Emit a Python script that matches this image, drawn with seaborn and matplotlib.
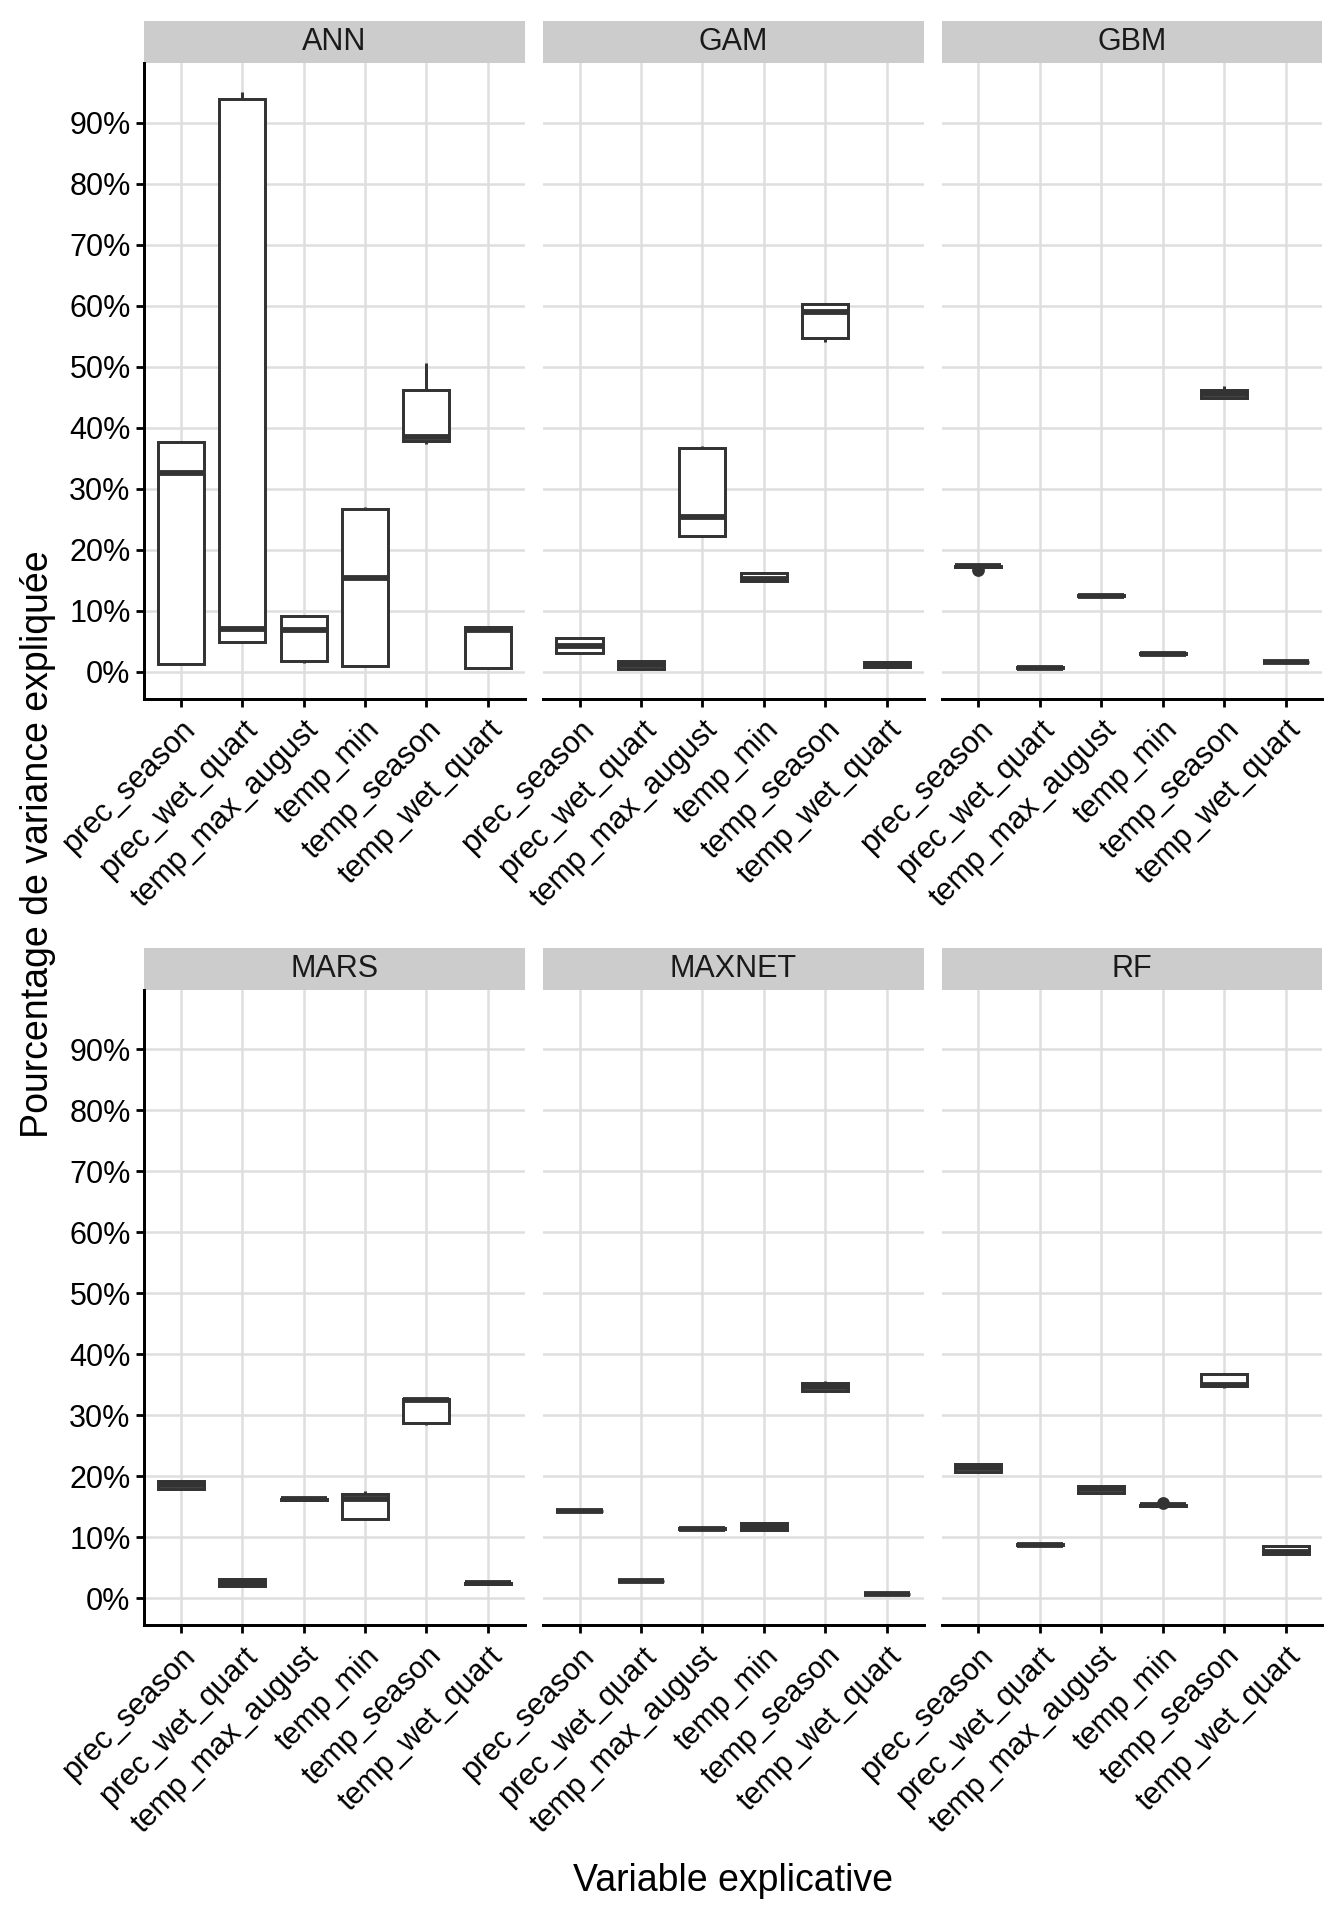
import numpy as np
import pandas as pd
import matplotlib.pyplot as plt
import seaborn as sns
from matplotlib.patches import Rectangle
from matplotlib.ticker import PercentFormatter

models = ["ANN", "GAM", "GBM", "MARS", "MAXNET", "RF"]
variables = ["prec_season", "prec_wet_quart", "temp_max_august",
             "temp_min", "temp_season", "temp_wet_quart"]

# share of explained variance per run (5 runs per variable)
ann = [
    [0.012, 0.013, 0.326, 0.376, 0.379],
    [0.049, 0.049, 0.070, 0.939, 0.950],
    [0.014, 0.017, 0.068, 0.091, 0.092],
    [0.0076, 0.0098, 0.154, 0.266, 0.270],
    [0.374, 0.379, 0.385, 0.462, 0.506],
    [0.005, 0.006, 0.068, 0.073, 0.0755],
]
gam = [
    [0.029, 0.030, 0.0415, 0.055, 0.056],
    [0.003, 0.004, 0.011, 0.017, 0.018],
    [0.220, 0.223, 0.253, 0.366, 0.370],
    [0.148, 0.149, 0.152, 0.162, 0.163],
    [0.540, 0.547, 0.589, 0.603, 0.604],
    [0.006, 0.007, 0.012, 0.016, 0.017],
]
gbm = [
    [0.167, 0.172, 0.173, 0.174, 0.175],
    [0.0060, 0.0064, 0.0068, 0.0072, 0.0075],
    [0.1235, 0.124, 0.1246, 0.125, 0.1255],
    [0.0288, 0.029, 0.0294, 0.030, 0.0302],
    [0.448, 0.449, 0.455, 0.461, 0.468],
    [0.0154, 0.0156, 0.0159, 0.0162, 0.0164],
]
mars = [
    [0.178, 0.1785, 0.185, 0.192, 0.1925],
    [0.0195, 0.020, 0.024, 0.031, 0.0316],
    [0.1605, 0.161, 0.1616, 0.162, 0.1625],
    [0.129, 0.130, 0.1616, 0.171, 0.175],
    [0.283, 0.2865, 0.3255, 0.327, 0.328],
    [0.0235, 0.0238, 0.024, 0.0243, 0.0245],
]
maxnet = [
    [0.1425, 0.1428, 0.143, 0.1435, 0.144],
    [0.0275, 0.0278, 0.028, 0.0283, 0.0286],
    [0.1135, 0.1138, 0.114, 0.1145, 0.1148],
    [0.111, 0.1117, 0.117, 0.1227, 0.123],
    [0.339, 0.340, 0.346, 0.352, 0.356],
    [0.006, 0.0063, 0.0066, 0.0069, 0.0072],
]
rf = [
    [0.2065, 0.207, 0.214, 0.220, 0.2205],
    [0.0868, 0.087, 0.0874, 0.0878, 0.088],
    [0.1715, 0.172, 0.178, 0.183, 0.1835],
    [0.1505, 0.151, 0.1518, 0.1525, 0.1555],
    [0.345, 0.347, 0.350, 0.367, 0.3675],
    [0.0715, 0.072, 0.075, 0.0845, 0.085],
]
yticks = [0.0, 0.1, 0.2, 0.3, 0.4, 0.5, 0.6, 0.7, 0.8, 0.9]

rows = []
for model, runs in zip(models, [ann, gam, gbm, mars, maxnet, rf]):
    for var, vals in zip(variables, runs):
        for v in vals:
            rows.append({"model": model, "variable": var, "value": v})
df = pd.DataFrame(rows)

sns.set_theme(style="white")
plt.rcParams["font.family"] = ["Liberation Sans", "DejaVu Sans"]

dark = "#333333"
fig, axes = plt.subplots(2, 3, figsize=(6.72, 9.6), dpi=200)
fig.subplots_adjust(left=0.107, right=0.984, top=0.967, bottom=0.1536,
                    wspace=0.047, hspace=0.458)

# ggplot-style 5% expansion of the data range
lo, hi = df["value"].min(), df["value"].max()
pad = 0.05 * (hi - lo)

for i, (ax, model) in enumerate(zip(axes.flat, models)):
    sub = df[df["model"] == model]
    sns.boxplot(data=sub, x="variable", y="value", order=variables, ax=ax,
                color="white", linecolor=dark, linewidth=1.07, width=0.75,
                medianprops={"linewidth": 2.1, "color": dark},
                capprops={"visible": False},
                flierprops={"marker": "o", "markerfacecolor": dark,
                            "markeredgecolor": dark, "markersize": 3.6})
    ax.set_xlim(-0.6, len(variables) - 0.4)
    ax.set_ylim(lo - pad, hi + pad)
    ax.set_yticks(yticks)
    ax.yaxis.set_major_formatter(PercentFormatter(1.0, decimals=0))
    ax.set_axisbelow(True)
    ax.grid(True, color="#DEDEDE", linewidth=0.9)
    ax.set_xlabel("")
    ax.set_ylabel("")
    for s in ["top", "right"]:
        ax.spines[s].set_visible(False)
    ax.spines["bottom"].set_color("black")
    ax.spines["bottom"].set_linewidth(1.07)
    ax.set_xticks(range(len(variables)))
    ax.set_xticklabels(variables, rotation=45, ha="right",
                       rotation_mode="anchor", fontsize=11, color="black")
    ax.tick_params(axis="x", length=2.75, width=1.0, color="black", pad=3,
                   bottom=True)
    if i % 3 == 0:
        ax.spines["left"].set_color("black")
        ax.spines["left"].set_linewidth(1.07)
        ax.tick_params(axis="y", length=2.75, width=1.0, color="black",
                       labelsize=11, labelcolor="black", pad=2, left=True)
    else:
        ax.spines["left"].set_visible(False)
        ax.tick_params(axis="y", length=0, labelleft=False)

    strip_h = 0.066
    ax.add_patch(Rectangle((0, 1), 1, strip_h, transform=ax.transAxes,
                           facecolor="#CCCCCC", edgecolor="none", clip_on=False))
    ax.text(0.5, 1 + strip_h / 2, model, transform=ax.transAxes,
            ha="center", va="center", fontsize=11, color="#1A1A1A")

fig.text(0.5455, 0.0205, "Variable explicative", ha="center", va="center",
         fontsize=13.5, color="black")
fig.text(0.028, 0.5605, "Pourcentage de variance expliquée", ha="center",
         va="center", rotation=90, fontsize=13.5, color="black")

fig.savefig("out.png", dpi=200)
